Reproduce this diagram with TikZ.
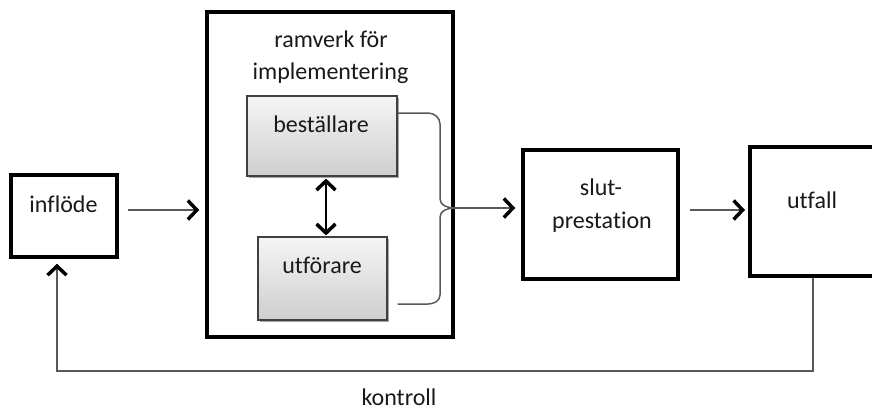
\documentclass[tikz,border=0pt]{standalone}
\usepackage{fontspec}
\setmainfont{Carlito}[Ligatures={NoCommon}]
\usetikzlibrary{arrows.meta,shadows}
\begin{document}
\begin{tikzpicture}[x=1pt,y=-1pt,
  box/.style={draw=black, line width=3.5pt, inner sep=0pt, fill=white},
  innerbox/.style={draw=black!75, line width=1.2pt, inner sep=0pt,
    top color=gray!8, bottom color=gray!38,
    drop shadow={shadow xshift=2pt, shadow yshift=-2pt, opacity=0.35, fill=black}},
  lbl/.style={anchor=base, inner sep=0pt, text=black!90, font=\fontsize{24}{28}\selectfont},
  thinline/.style={draw=black!65, line width=1.5pt},
  tip/.style={-{Straight Barb[length=9pt,width=19pt,line width=3.5pt,color=black]}},
  dtip/.style={{Straight Barb[length=9pt,width=19pt,line width=3.5pt,color=black]}-{Straight Barb[length=9pt,width=19pt,line width=3.5pt,color=black]}}
]
\useasboundingbox (0,0) rectangle (872,413);
\clip (0,0) rectangle (872,413);

% boxes
\node[box, minimum width=106pt, minimum height=82pt] (inflode) at (64,216) {};
\node[box, minimum width=246pt, minimum height=325pt] (ramverk) at (330,174.5) {};
\node[innerbox, minimum width=150pt, minimum height=80pt] (bestallare) at (322,136) {};
\node[innerbox, minimum width=129pt, minimum height=83pt] (utforare) at (322.5,278.5) {};
\node[box, minimum width=155pt, minimum height=129pt] (slut) at (600.5,214.5) {};
\node[box, minimum width=150pt, minimum height=129pt, anchor=west] (utfall) at (748,211.5) {};

% texts
\node[lbl] (t1) at (63.5,212) {inflöde};
\node[lbl] (t2) at (331,47) {ramverk för};
\node[lbl] (t3) at (330.5,79) {implementering};
\node[lbl] (t4) at (321,132) {beställare};
\node[lbl] (t5) at (322,273) {utförare};
\node[lbl] (t6) at (601,195) {slut-};
\node[lbl] (t7) at (602,228) {prestation};
\node[lbl] (t8) at (812,208) {utfall};
\node[lbl] (t9) at (399,405) {kontroll};

% connectors
\draw[thinline, tip] (inflode.east |- 0,210) ++(9,0) -- ([xshift=-6pt]ramverk.west |- 0,210);
\draw[line width=1.5pt, draw=black, dtip] (bestallare.south -| 326,0) ++(0,2) -- ([yshift=1pt]utforare.north -| 326,0);

\coordinate (brtip) at (455,208);
\draw[thinline] (bestallare.east |- 0,113) -- (428,113) to[out=0,in=90] (440,124) -- (440,199) to[out=-90,in=180] (brtip);
\draw[thinline] (utforare.east |- 0,304) ++(10,0) -- (428,304) to[out=0,in=-90] (440,295) -- (440,217) to[out=90,in=180] (brtip);
\draw[thinline, tip] (brtip) -- ([xshift=-6pt]slut.west |- brtip);

\draw[thinline, tip] (slut.east |- 0,210) ++(10,0) -- ([xshift=-3pt]utfall.west |- 0,210);

\coordinate (c1) at (813,371);
\coordinate (c2) at (57,371);
\draw[thinline, tip] (utfall.south -| c1) -- (c1) -- (c2) -- ([yshift=-5pt]inflode.south -| c2);
\end{tikzpicture}
\end{document}
